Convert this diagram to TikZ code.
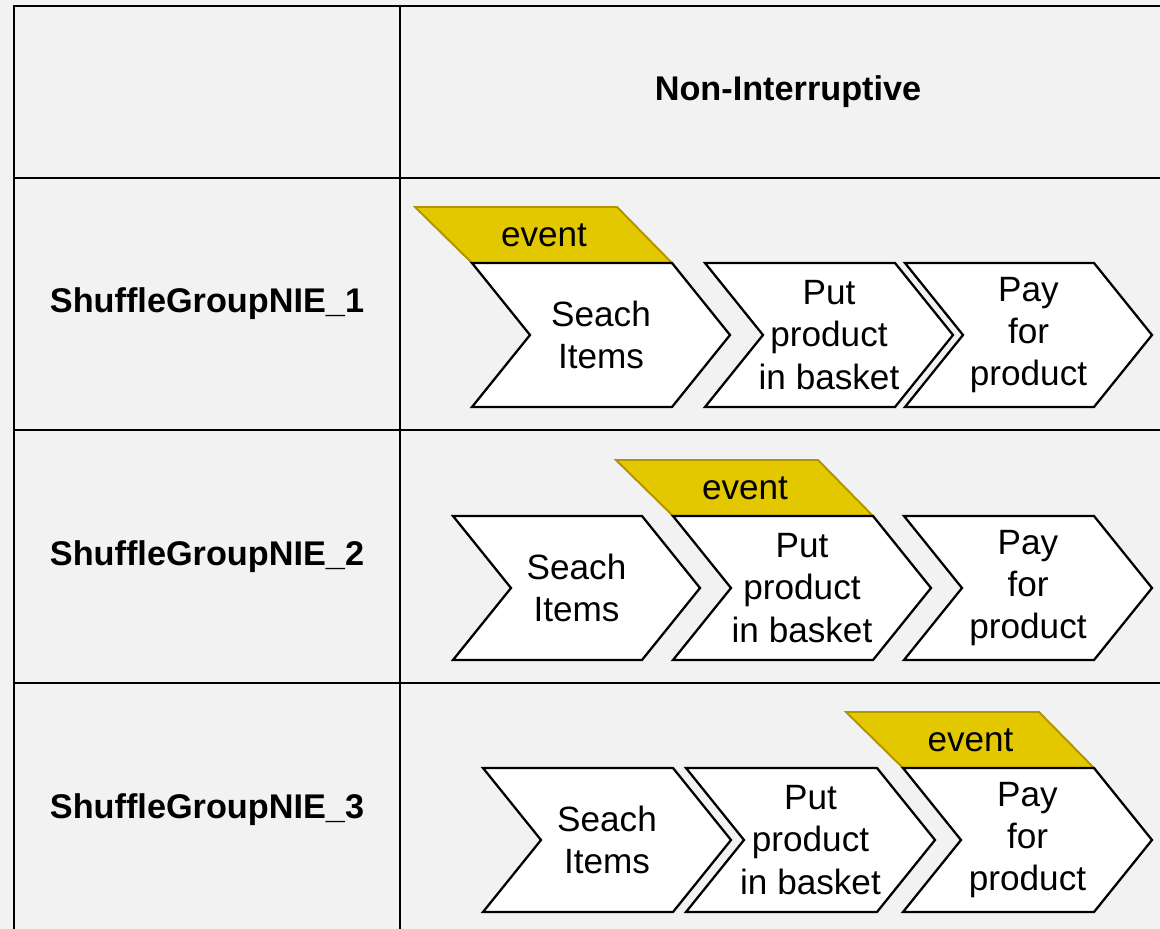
\documentclass[tikz,border=0pt]{standalone}
\usepackage{fontspec}
\setmainfont{Liberation Sans}
\definecolor{evfill}{HTML}{E3C800}
\definecolor{evline}{HTML}{B09500}
\definecolor{bg}{HTML}{F2F2F2}
\tikzset{
	chevbox/.style={fill=white, draw=black, line width=1.3pt},
	eventbox/.style={fill=evfill, draw=evline, line width=1.1pt},
	gridline/.style={line width=1.7pt},
	lbl/.style={align=center, font=\fontsize{20}{24}\selectfont},
	rowlbl/.style={font=\bfseries\fontsize{19.5}{24}\selectfont}
}
\begin{document}
\begin{tikzpicture}[x=0.02cm, y=-0.02cm]
			\def \h{144}
			\def \tip{58}
			% chevron: left, right, top, name, text
			\def \chev#1#2#3#4#5{%
				\draw[chevbox] (#1,#3)--(#2,#3)--(#2+\tip,#3+\h/2)--(#2,#3+\h)
					--(#1,#3+\h)--(#1+\tip,#3+\h/2)--cycle;
				\node[lbl] (#4) at ({(#1+#2+\tip)/2},#3+\h/2) {#5};}
			% event flag above a chevron: left, right, top, name
			\def \ev#1#2#3#4{%
				\draw[eventbox] (#1-57,#3-56)--(#2-55,#3-56)--(#2,#3)--(#1,#3)--cycle;
				\node[lbl] (#4) at ({(#1+#2)/2-28},#3-28) {event};}
			\useasboundingbox (0,0) rectangle (1160,929);
			\fill[bg] (0,0) rectangle (1160,929);
			\clip (0,0) rectangle (1160,929);
			% table
			\draw[gridline] (14,940)--(14,6)--(1170,6);
			\draw[gridline] (400,6)--(400,940);
			\draw[gridline] (14,178)--(1170,178) (14,430)--(1170,430) (14,683)--(1170,683);
			\node[rowlbl] (head) at (788,92) {Non-Interruptive};
			\node[rowlbl] (grp1) at (207,304) {ShuffleGroupNIE\_1};
			\node[rowlbl] (grp2) at (207,557) {ShuffleGroupNIE\_2};
			\node[rowlbl] (grp3) at (207,810) {ShuffleGroupNIE\_3};
			% row 1
			\ev{472}{672}{263}{ev1}
			\chev{472}{672}{263}{sa}{Seach\\Items}
			\chev{705}{895}{263}{sb}{Put\\product\\in basket}
			\chev{905}{1094}{263}{sc}{Pay\\for\\product}
			% row 2
			\ev{673}{873}{516}{ev2}
			\chev{453}{642}{516}{ta}{Seach\\Items}
			\chev{673}{873}{516}{tb}{Put\\product\\in basket}
			\chev{904}{1094}{516}{tc}{Pay\\for\\product}
			% row 3
			\ev{903}{1094}{768}{ev3}
			\chev{483}{673}{768}{ua}{Seach\\Items}
			\chev{686}{877}{768}{ub}{Put\\product\\in basket}
			\chev{903}{1094}{768}{uc}{Pay\\for\\product}
		\end{tikzpicture}
\end{document}
